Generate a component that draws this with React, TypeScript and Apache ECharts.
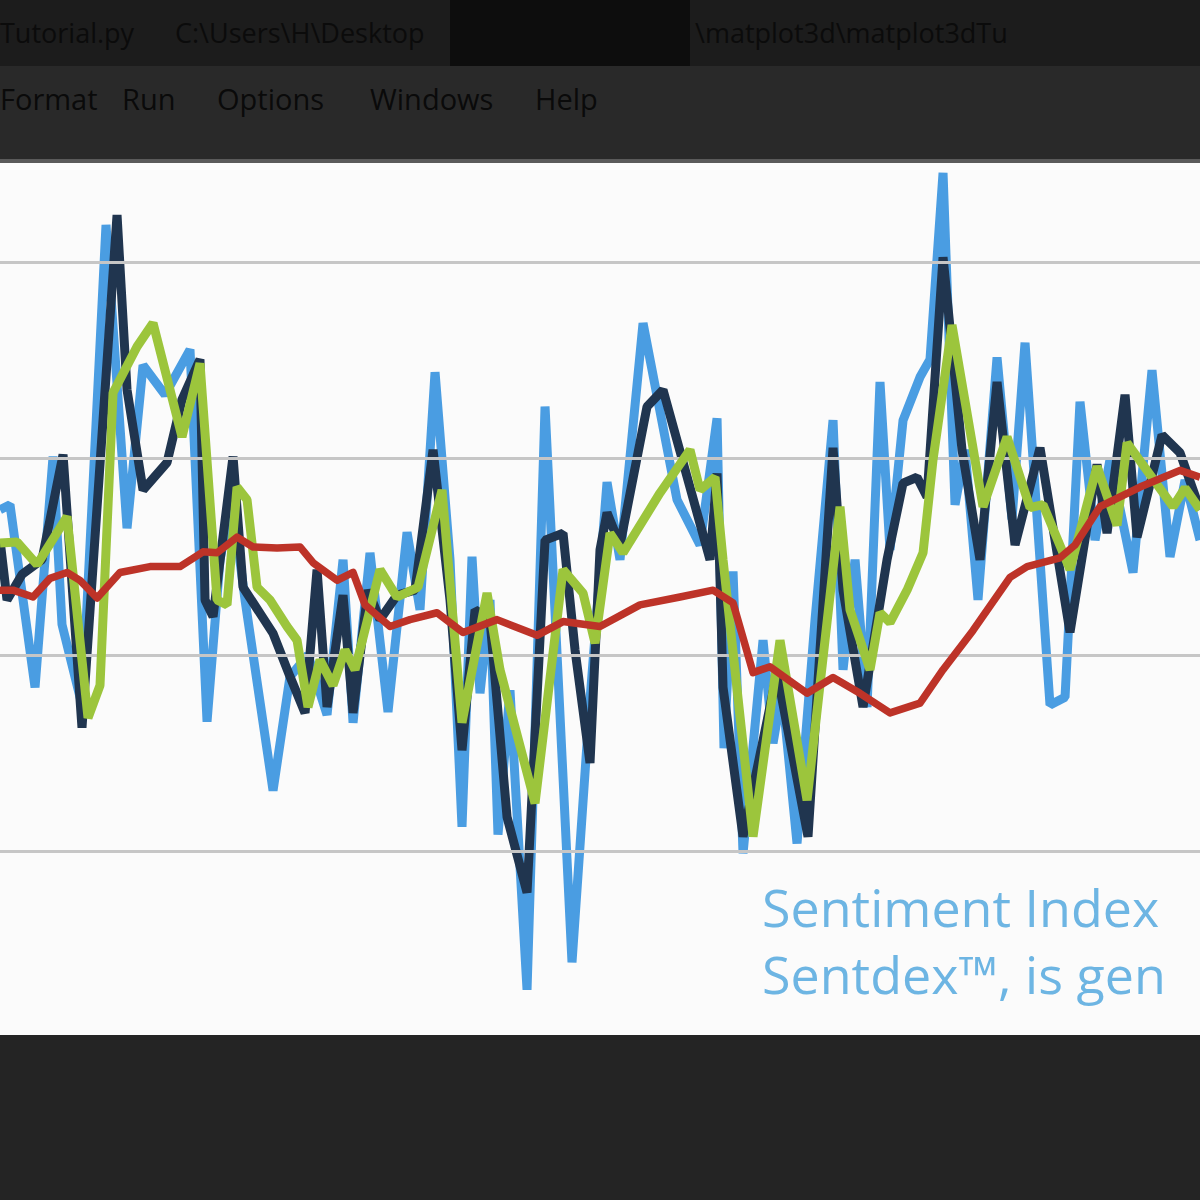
import React, { useEffect, useRef } from "react";
import * as echarts from "echarts";

// x: sample index position (0..150), y: sentiment value (gridlines at -20, 0, 20, 40)
const rawSentiment: [number, number][] = [
  [0, 14.8], [1.25, 15.3], [4.38, -3.3], [6.63, 20.2], [7.75, 3.1], [10.25, -5.1],
  [13.25, 43.8], [15.88, 12.9], [17.88, 29.5], [20.63, 26.5], [23.75, 31.1],
  [25.88, -6.8], [27.5, 9.7], [29.0, 15.8], [30.63, 5.6], [34.13, -13.8],
  [36.25, -2.2], [38.5, 0], [40.88, -6.1], [42.88, 9.7], [44.13, -6.9],
  [46.25, 10.4], [48.5, -5.8], [50.88, 12.5], [52.5, 4.6], [54.38, 28.8],
  [56.25, 9.7], [57.75, -17.5], [59.0, 10.0], [60.0, -3.9], [61.25, 5.6],
  [62.25, -18.3], [63.75, -3.6], [65.88, -34.1], [68.13, 25.3], [71.5, -31.3],
  [73.75, -4.6], [75.88, 17.6], [77.5, 9.7], [80.38, 33.8], [84.63, 15.8],
  [87.5, 11.2], [89.63, 24.1], [90.5, -9.5], [91.63, 8.5], [92.88, -20.2],
  [95.38, 1.5], [96.63, -9.0], [97.75, -3.6], [99.63, -19.2], [101.88, 3.6],
  [104.13, 23.9], [105.38, -1.5], [106.88, 9.7], [108.38, -5.3], [110.0, 27.8],
  [111.25, 10.7], [112.88, 23.9], [115.0, 28.3], [116.25, 30.1], [117.88, 49.1],
  [119.38, 15.3], [120.63, 20.9], [122.25, 5.6], [124.63, 30.3], [126.5, 13.8],
  [128.13, 31.8], [131.25, -5.1], [133.13, -4.3], [135.0, 25.8], [136.88, 11.7],
  [138.75, 19.9], [141.63, 8.4], [144.0, 29.0], [146.25, 10.0], [148.13, 17.8],
  [150, 11.7]
];

const shortAverage: [number, number][] = [
  [0, 11.7], [0.88, 5.6], [2.75, 8.2], [5.25, 9.7], [7.88, 20.4], [10.25, -7.4],
  [14.63, 44.8], [15.88, 27.0], [17.88, 16.8], [20.88, 19.6], [22.75, 26.0],
  [25.0, 30.1], [25.63, 5.6], [26.63, 3.9], [29.13, 20.2], [30.38, 6.9],
  [34.13, 2.2], [36.25, -2.2], [38.13, -5.9], [39.63, 8.7], [40.88, -5.3],
  [42.88, 6.1], [44.13, -5.9], [46.0, 6.6], [47.5, 3.6], [49.63, 6.1],
  [51.88, 6.6], [54.13, 20.9], [56.25, 5.6], [57.75, -9.7], [59.38, 4.6],
  [61.25, 3.6], [63.38, -16.5], [65.88, -24.2], [68.13, 11.7], [70.38, 12.4],
  [71.88, 0.5], [73.75, -11.0], [75.0, 10.7], [75.88, 14.5], [77.5, 11.2],
  [80.88, 25.3], [82.88, 27.0], [88.75, 9.7], [89.63, 18.5], [90.38, -3.3],
  [92.88, -18.5], [97.13, -1.8], [101.0, -18.5], [104.13, 21.1], [105.38, 6.6],
  [107.88, -5.3], [110.88, 9.7], [112.88, 17.5], [114.63, 18.1], [115.88, 16.1],
  [117.88, 40.5], [120.25, 20.9], [122.5, 9.7], [124.63, 27.8], [126.88, 11.2],
  [130.0, 21.1], [133.75, 2.3], [137.13, 19.4], [138.38, 12.4], [140.63, 26.5],
  [142.13, 12.0], [145.25, 22.4], [147.5, 20.6], [150, 14.8]
];

const mediumAverage: [number, number][] = [
  [0, 11.4], [2.13, 11.5], [4.63, 9.2], [8.38, 14.1], [11.0, -6.4], [12.5, -3.1],
  [14.13, 26.7], [17.13, 31.4], [19.13, 33.8], [22.75, 22.2], [25.0, 29.7],
  [27.13, 5.6], [28.38, 5.1], [29.63, 17.1], [30.88, 15.8], [32.13, 6.9],
  [33.75, 5.6], [35.88, 2.9], [37.13, 1.5], [38.5, -5.3], [40.0, -0.5],
  [41.63, -3.1], [43.13, 0.5], [44.38, -1.5], [47.5, 8.7], [49.63, 5.9],
  [52.25, 6.9], [55.25, 16.8], [57.75, -6.9], [60.88, 6.3], [62.5, -1.5],
  [66.88, -15.1], [70.38, 8.7], [72.88, 6.3], [74.38, 1.2], [76.25, 12.4],
  [77.88, 10.4], [82.5, 16.5], [86.25, 20.9], [87.5, 16.8], [89.38, 18.1],
  [90.38, 9.7], [94.13, -18.5], [97.5, 1.5], [100.88, -14.8], [105.0, 15.1],
  [106.25, 4.6], [108.75, -1.5], [110.0, 4.3], [111.25, 3.3], [113.38, 6.6],
  [115.38, 10.4], [116.63, 19.9], [119.0, 33.6], [122.88, 15.1], [125.88, 22.2],
  [128.75, 15.0], [130.38, 15.3], [133.75, 8.7], [137.13, 19.2], [139.63, 13.2],
  [140.88, 21.6], [146.63, 15.1], [148.13, 17.0], [150, 14.8]
];

const longAverage: [number, number][] = [
  [0, 6.6], [1.63, 6.6], [4.13, 5.9], [6.25, 7.8], [8.38, 8.4], [10.0, 7.6],
  [12.13, 5.8], [15.0, 8.4], [18.75, 9.0], [22.5, 9.0], [25.38, 10.5],
  [27.13, 10.4], [29.63, 12.0], [31.63, 11.0], [34.63, 10.9], [37.5, 11.0],
  [39.13, 9.4], [42.13, 7.6], [44.13, 8.4], [45.63, 5.1], [48.75, 2.9],
  [51.25, 3.6], [54.63, 4.3], [57.88, 2.3], [62.13, 3.6], [67.13, 2.0],
  [70.38, 3.4], [75.0, 2.9], [80.0, 5.1], [85.0, 5.9], [89.13, 6.6],
  [91.63, 5.3], [94.13, -1.8], [96.25, -1.2], [100.88, -3.9], [104.13, -2.3],
  [107.5, -3.9], [111.25, -5.9], [115.0, -4.9], [117.88, -1.5], [121.63, 2.5],
  [126.25, 7.9], [128.38, 9.0], [132.5, 9.9], [134.38, 11.2], [137.5, 15.1],
  [142.5, 17.1], [147.5, 18.8], [150, 18.1]
];

const gridValues = [-20, 0, 20, 40];

const titleTexts = ["Tutorial.py", "C:\\Users\\H\\Desktop", "\\matplot3d\\matplot3dTu"];
const menuItems = ["Format", "Run", "Options", "Windows", "Help"];
const captionLines = ["Sentiment Index", "Sentdex\u2122, is gen"];

export default function App() {
  const ref = useRef<HTMLDivElement>(null);
  useEffect(() => {
    if (!ref.current) return;
    const chart = echarts.init(ref.current, null, { renderer: "svg" });
    const titleX = [0, 175, 695];
    const menuX = [0, 122, 217, 370, 535];
    const lineBase = {
      type: "line" as const,
      showSymbol: false,
      symbol: "none",
      silent: true,
      clip: true,
    };
    chart.setOption({
      animation: false,
      backgroundColor: "#242424",
      grid: {
        left: 0,
        right: 0,
        top: 163,
        bottom: 165,
        show: true,
        backgroundColor: "#fbfbfb",
        borderWidth: 0,
      },
      xAxis: { type: "value", min: 0, max: 150, show: false },
      yAxis: { type: "value", min: -38.7, max: 50.1, show: false, splitLine: { show: false } },
      graphic: [
        { type: "rect", z: 0, shape: { x: 0, y: 0, width: 1200, height: 66 }, style: { fill: "#1c1c1c" } },
        { type: "rect", z: 0, shape: { x: 450, y: 0, width: 240, height: 66 }, style: { fill: "#0d0d0d" } },
        { type: "rect", z: 0, shape: { x: 0, y: 66, width: 1200, height: 94 }, style: { fill: "#292929" } },
        { type: "rect", z: 0, shape: { x: 0, y: 159, width: 1200, height: 4 }, style: { fill: "#5a5a5a" } },
        ...titleTexts.map((t, i) => ({
          type: "text",
          z: 1,
          style: {
            text: t,
            x: titleX[i],
            y: 32,
            fill: "#0b0b0b",
            fontSize: 27,
            fontFamily: "Open Sans",
            verticalAlign: "middle",
          },
        })),
        ...menuItems.map((t, i) => ({
          type: "text",
          z: 1,
          style: {
            text: t,
            x: menuX[i],
            y: 98,
            fill: "#0a0a0a",
            fontSize: 29,
            fontFamily: "Open Sans",
            verticalAlign: "middle",
          },
        })),
        ...captionLines.map((t, i) => ({
          type: "text",
          z: 10,
          style: {
            text: t,
            x: 762,
            y: 906 + i * 67,
            fill: "#6db5e3",
            fontSize: 52,
            fontFamily: "Open Sans",
            verticalAlign: "middle",
          },
        })),
      ],
      series: [
        {
          ...lineBase,
          name: "grid",
          z: 1,
          data: longAverage,
          lineStyle: { opacity: 0, width: 1 },
          markLine: {
            silent: true,
            symbol: "none",
            label: { show: false },
            lineStyle: { color: "#c6c6c6", width: 3, type: "solid" },
            data: gridValues.map((v) => ({ yAxis: v })),
          },
        },
        {
          ...lineBase,
          name: "Sentiment",
          z: 3,
          data: rawSentiment,
          lineStyle: { color: "#4a9de2", width: 9, join: "bevel" },
        },
        {
          ...lineBase,
          name: "Short MA",
          z: 4,
          data: shortAverage,
          lineStyle: { color: "#20354f", width: 9, join: "bevel" },
        },
        {
          ...lineBase,
          name: "Medium MA",
          z: 5,
          data: mediumAverage,
          lineStyle: { color: "#9cc53c", width: 9, join: "bevel" },
        },
        {
          ...lineBase,
          name: "Long MA",
          z: 6,
          data: longAverage,
          lineStyle: { color: "#bd3328", width: 7.5, join: "round" },
        },
      ],
    });
    return () => chart.dispose();
  }, []);
  return (
    <div
      ref={ref}
      style={{ position: "fixed", left: 0, top: 0, width: 1200, height: 1200 }}
    />
  );
}
